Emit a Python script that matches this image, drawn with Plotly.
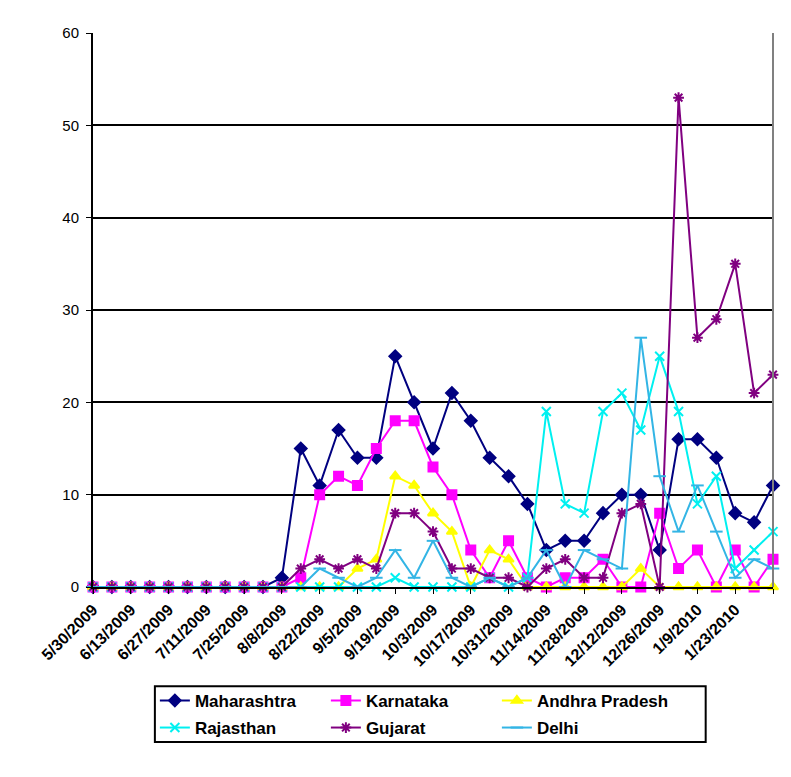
import plotly.graph_objects as go

weeks = ["5/30/2009", "6/6/2009", "6/13/2009", "6/20/2009", "6/27/2009", "7/4/2009",
         "7/11/2009", "7/18/2009", "7/25/2009", "8/1/2009", "8/8/2009", "8/15/2009",
         "8/22/2009", "8/29/2009", "9/5/2009", "9/12/2009", "9/19/2009", "9/26/2009",
         "10/3/2009", "10/10/2009", "10/17/2009", "10/24/2009", "10/31/2009", "11/7/2009",
         "11/14/2009", "11/21/2009", "11/28/2009", "12/5/2009", "12/12/2009", "12/19/2009",
         "12/26/2009", "1/2/2010", "1/9/2010", "1/16/2010", "1/23/2010", "1/30/2010",
         "2/6/2010"]

maharashtra = [0, 0, 0, 0, 0, 0, 0, 0, 0, 0, 1, 15, 11, 17, 14, 14, 25, 20, 15, 21, 18,
               14, 12, 9, 4, 5, 5, 8, 10, 10, 4, 16, 16, 14, 8, 7, 11]
karnataka = [0, 0, 0, 0, 0, 0, 0, 0, 0, 0, 0, 1, 10, 12, 11, 15, 18, 18, 13, 10, 4,
             1, 5, 1, 0, 1, 1, 3, 0, 0, 8, 2, 4, 0, 4, 0, 3]
andhra = [0, 0, 0, 0, 0, 0, 0, 0, 0, 0, 0, 0, 0, 0, 2, 3, 12, 11, 8, 6, 0,
          4, 3, 0, 0, 0, 0, 0, 0, 2, 0, 0, 0, 0, 0, 0, 0]
rajasthan = [0, 0, 0, 0, 0, 0, 0, 0, 0, 0, 0, 0, 0, 0, 0, 0, 1, 0, 0, 0, 0,
             1, 0, 1, 19, 9, 8, 19, 21, 17, 25, 19, 9, 12, 2, 4, 6]
gujarat = [0, 0, 0, 0, 0, 0, 0, 0, 0, 0, 0, 2, 3, 2, 3, 2, 8, 8, 6, 2, 2,
           1, 1, 0, 2, 3, 1, 1, 8, 9, 0, 53, 27, 29, 35, 21, 23]
delhi = [0, 0, 0, 0, 0, 0, 0, 0, 0, 0, 0, 0, 2, 1, 0, 1, 4, 1, 5, 1, 0,
         1, 0, 1, 4, 0, 4, 3, 2, 27, 12, 6, 11, 6, 1, 3, 2]

# every second week gets a tick; the last one has no label
tick_weeks = weeks[::2]
tick_text = tick_weeks[:-1] + [""]

series = [
    ("Maharashtra", maharashtra, "#000080", "diamond", 9, "legend"),
    ("Karnataka", karnataka, "#FF00FF", "square", 9, "legend"),
    ("Andhra Pradesh", andhra, "#FFFF00", "triangle-up", 9, "legend"),
    ("Rajasthan", rajasthan, "#00F0F0", "x-thin-open", 9, "legend2"),
    ("Gujarat", gujarat, "#800080", "asterisk-open", 9, "legend2"),
    ("Delhi", delhi, "#33B5E5", "line-ew-open", 9, "legend2"),
]

fig = go.Figure()
for name, vals, col, sym, sz, leg in series:
    fig.add_trace(go.Scatter(
        x=weeks, y=vals, name=name, mode="lines+markers",
        line=dict(color=col, width=2),
        marker=dict(symbol=sym, size=sz, color=col, line=dict(color=col, width=2)),
        cliponaxis=False, legend=leg,
    ))

legend_style = dict(
    orientation="h", xanchor="left", x=0.091, yanchor="top",
    font=dict(family="Arial", size=17, color="black", weight="bold"),
    entrywidth=126, bgcolor="rgba(0,0,0,0)", borderwidth=0,
    tracegroupgap=0, itemwidth=30,
)

# page body has an 8px margin, so the figure is a bit smaller than the window
fig.update_layout(
    width=783, height=769,
    margin=dict(l=85, r=18, t=25, b=190, autoexpand=False),
    plot_bgcolor="white", paper_bgcolor="white",
    font=dict(family="Arial", color="black"),
    showlegend=True,
    legend=dict(legend_style, y=-0.173),
    legend2=dict(legend_style, y=-0.222),
    xaxis=dict(
        type="category", range=[0, len(weeks) - 1], automargin=False,
        tickvals=tick_weeks, ticktext=tick_text, tickangle=-45,
        tickfont=dict(size=16, family="Arial", weight="bold"),
        showgrid=False, showline=True, linecolor="black", linewidth=2,
        ticks="outside", ticklen=5, tickcolor="black",
    ),
    yaxis=dict(
        range=[0, 60], dtick=10, automargin=False,
        tickfont=dict(size=15, family="Arial"),
        showgrid=True, gridcolor="black", gridwidth=2,
        showline=True, linecolor="black", linewidth=2,
        ticks="outside", ticklen=5, tickcolor="black", zeroline=False,
        ticklabelstandoff=4,
    ),
    shapes=[
        dict(type="line", xref="paper", yref="paper", x0=1, x1=1, y0=0, y1=1,
             line=dict(color="#808080", width=2)),
        dict(type="rect", xref="paper", yref="paper", x0=0.091, x1=0.901,
             y0=-0.280, y1=-0.179, line=dict(color="black", width=2)),
    ],
)

fig.write_html("out.html")
